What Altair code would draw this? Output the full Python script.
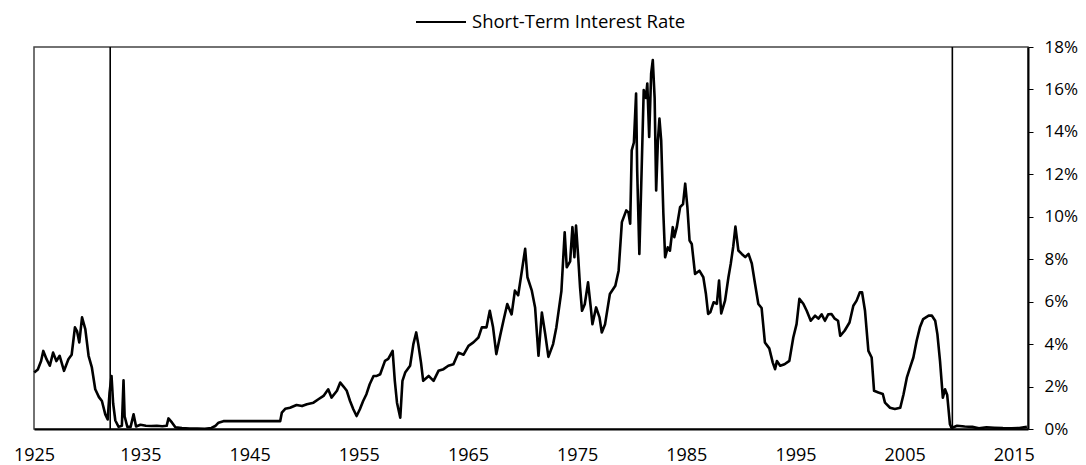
import altair as alt
import pandas as pd

series_name = "Short-Term Interest Rate"

years = [
    1925.27, 1925.6, 1925.9, 1926.1, 1926.4, 1926.7, 1927.0, 1927.3, 1927.6, 1928.0,
    1928.4, 1928.7, 1929.0, 1929.2, 1929.4, 1929.65, 1929.95, 1930.25, 1930.55, 1930.86,
    1931.2, 1931.47, 1931.78, 1932.0, 1932.17, 1932.35, 1932.5, 1932.7, 1933.0, 1933.3,
    1933.45, 1933.55, 1933.8, 1934.1, 1934.37, 1934.6, 1935.0, 1935.5, 1936.0, 1936.5,
    1937.0, 1937.4, 1937.57, 1937.9, 1938.2, 1938.8, 1939.5, 1940.2, 1940.9, 1941.5,
    1941.85, 1942.15, 1942.6, 1947.8, 1947.95, 1948.26, 1948.7, 1949.3, 1949.8, 1950.25,
    1950.85, 1951.3, 1951.77, 1952.2, 1952.5, 1953.0, 1953.3, 1953.6, 1953.9, 1954.2,
    1954.5, 1954.8, 1955.1, 1955.4, 1955.7, 1956.0, 1956.35, 1956.65, 1956.96, 1957.4,
    1957.7, 1958.1, 1958.3, 1958.5, 1958.8, 1959.0, 1959.25, 1959.7, 1960.0, 1960.26,
    1960.45, 1960.7, 1960.9, 1961.4, 1961.85, 1962.3, 1962.76, 1963.2, 1963.67, 1964.13,
    1964.6, 1965.05, 1965.5, 1965.96, 1966.27, 1966.7, 1967.0, 1967.3, 1967.6, 1967.95,
    1968.25, 1968.6, 1969.0, 1969.3, 1969.6, 1969.94, 1970.24, 1970.45, 1970.85, 1971.15,
    1971.46, 1971.77, 1972.07, 1972.37, 1972.8, 1973.1, 1973.56, 1973.86, 1974.05, 1974.36,
    1974.57, 1974.75, 1974.9, 1975.1, 1975.27, 1975.45, 1975.7, 1976.0, 1976.25, 1976.4,
    1976.74, 1977.05, 1977.26, 1977.56, 1978.0, 1978.5, 1978.8, 1979.1, 1979.5, 1979.7,
    1979.86, 1980.0, 1980.2, 1980.4, 1980.5, 1980.7, 1980.9, 1981.1, 1981.3, 1981.43,
    1981.6, 1981.78, 1981.93, 1982.1, 1982.24, 1982.4, 1982.54, 1982.7, 1982.9, 1983.06,
    1983.3, 1983.5, 1983.76, 1983.9, 1984.13, 1984.43, 1984.7, 1984.9, 1985.1, 1985.3,
    1985.5, 1985.8, 1986.2, 1986.56, 1986.8, 1987.0, 1987.2, 1987.5, 1987.8, 1988.0,
    1988.2, 1988.55, 1988.86, 1989.07, 1989.3, 1989.5, 1989.77, 1990.08, 1990.4, 1990.7,
    1991.0, 1991.3, 1991.6, 1991.9, 1992.2, 1992.6, 1992.92, 1993.13, 1993.3, 1993.6,
    1994.0, 1994.44, 1994.8, 1995.1, 1995.36, 1995.72, 1996.03, 1996.4, 1996.8, 1997.1,
    1997.4, 1997.7, 1998.0, 1998.3, 1998.6, 1998.9, 1999.1, 1999.5, 1999.95, 2000.3,
    2000.6, 2000.9, 2001.1, 2001.37, 2001.68, 2001.98, 2002.2, 2002.6, 2003.0, 2003.2,
    2003.66, 2004.1, 2004.6, 2004.9, 2005.2, 2005.5, 2005.8, 2006.1, 2006.4, 2006.7,
    2007.2, 2007.5, 2007.8, 2008.0, 2008.24, 2008.5, 2008.7, 2008.9, 2009.15, 2009.3,
    2009.8, 2010.5, 2011.2, 2011.8, 2012.5, 2013.2, 2014.0, 2014.8, 2015.5, 2016.2,
]

rates = [
    2.66, 2.8, 3.2, 3.68, 3.29, 2.98, 3.6, 3.2, 3.45, 2.74,
    3.29, 3.5, 4.79, 4.6, 4.08, 5.26, 4.71, 3.45, 2.9, 1.87,
    1.5, 1.32, 0.69, 0.45, 1.71, 2.5, 1.2, 0.4, 0.1, 0.15,
    2.3, 0.6, 0.1, 0.1, 0.69, 0.12, 0.2, 0.15, 0.14, 0.15,
    0.13, 0.15, 0.5, 0.3, 0.08, 0.04, 0.02, 0.02, 0.01, 0.05,
    0.14, 0.3, 0.37, 0.37, 0.77, 0.95, 1.0, 1.13, 1.08, 1.17,
    1.24, 1.4, 1.56, 1.87, 1.48, 1.8, 2.19, 2.0, 1.8, 1.32,
    0.93, 0.61, 0.93, 1.32, 1.64, 2.11, 2.5, 2.5, 2.58, 3.21,
    3.3, 3.68, 2.27, 1.24, 0.53, 2.27, 2.66, 2.98, 4.0, 4.55,
    4.0, 3.13, 2.27, 2.5, 2.27, 2.74, 2.82, 2.98, 3.05, 3.6,
    3.5, 3.92, 4.08, 4.31, 4.79, 4.79, 5.57, 4.79, 3.53, 4.4,
    5.1, 5.89, 5.4, 6.52, 6.3, 7.46, 8.49, 7.15, 6.52, 5.73,
    3.45, 5.49, 4.5, 3.4, 4.0, 4.8, 6.5, 9.27, 7.62, 7.9,
    9.51, 8.1, 9.59, 8.09, 6.67, 5.57, 5.88, 6.91, 5.73, 4.94,
    5.73, 5.26, 4.55, 4.94, 6.36, 6.75, 7.46, 9.75, 10.3, 10.2,
    9.67, 13.13, 13.5, 15.81, 12.2, 8.25, 12.03, 15.97, 15.6, 16.28,
    13.76, 16.75, 17.38, 15.6, 11.24, 13.6, 14.63, 13.6, 10.14, 8.09,
    8.56, 8.4, 9.51, 9.04, 9.51, 10.45, 10.6, 11.56, 10.45, 8.88,
    8.72, 7.31, 7.46, 7.15, 6.36, 5.42, 5.5, 5.97, 5.9, 6.99,
    5.45, 6.05, 7.15, 7.78, 8.6, 9.54, 8.41, 8.25, 8.1, 8.25,
    7.8, 6.83, 5.89, 5.7, 4.08, 3.8, 3.13, 2.82, 3.2, 2.98,
    3.05, 3.21, 4.31, 4.94, 6.13, 5.9, 5.57, 5.1, 5.34, 5.2,
    5.4, 5.1, 5.4, 5.42, 5.2, 5.1, 4.39, 4.63, 5.02, 5.81,
    6.05, 6.44, 6.44, 5.57, 3.68, 3.37, 1.8, 1.72, 1.65, 1.24,
    1.0, 0.94, 1.0, 1.64, 2.42, 2.9, 3.37, 4.16, 4.79, 5.18,
    5.34, 5.34, 5.1, 4.47, 3.21, 1.48, 1.87, 1.6, 0.22, 0.05,
    0.15, 0.12, 0.1, 0.03, 0.08, 0.06, 0.04, 0.03, 0.05, 0.1,
]

marker_years = [1932.23, 2009.37]
# first tick sits on the left edge of the frame and is labelled 1925
x_ticks = [1925.25, 1935, 1945, 1955, 1965, 1975, 1985, 1995, 2005, 2015]
y_ticks = [0, 2, 4, 6, 8, 10, 12, 14, 16, 18]

FONT = "Open Sans"

df = pd.DataFrame({"year": years, "rate": rates, "series": series_name})
markers = pd.DataFrame({"year": marker_years, "lo": [0, 0], "hi": [18, 18]})

x_scale = alt.Scale(domain=[1925.25, 2016.3], nice=False, zero=False)
y_scale = alt.Scale(domain=[0, 18], nice=False)

line = alt.Chart(df).mark_line(strokeWidth=2.6, strokeJoin="round").encode(
    x=alt.X(
        "year:Q",
        scale=x_scale,
        axis=alt.Axis(
            values=x_ticks,
            labelExpr="datum.value < 1930 ? '1925' : format(datum.value, 'd')",
            title=None, grid=False, ticks=False,
            domainColor="black", domainWidth=2, labelFontSize=18, labelFont=FONT,
            labelColor="black", labelPadding=17, labelFlush=False, labelOverlap=False,
        ),
    ),
    y=alt.Y(
        "rate:Q",
        scale=y_scale,
        axis=alt.Axis(
            orient="right", values=y_ticks, labelExpr="datum.value + '%'", title=None,
            grid=False, ticks=True, tickSize=5, tickColor="black", tickWidth=1,
            domainColor="black", domainWidth=2, labelFontSize=17, labelFont=FONT,
            labelColor="black", labelPadding=11,
        ),
    ),
    color=alt.Color(
        "series:N",
        scale=alt.Scale(range=["black"]),
        legend=alt.Legend(
            title=None, orient="none", legendX=381, legendY=-51, symbolType="stroke",
            symbolSize=2500, symbolStrokeWidth=2, labelFontSize=18.5, labelFont=FONT,
            labelColor="black", labelOffset=5, labelLimit=0,
        ),
    ),
)

rules = alt.Chart(markers).mark_rule(color="black", strokeWidth=1.6).encode(
    x=alt.X("year:Q", scale=x_scale),
    y=alt.Y("lo:Q", scale=y_scale),
    y2="hi:Q",
)

chart = (
    alt.layer(line, rules)
    .properties(
        width=994,
        height=382,
        autosize=alt.AutoSizeParams(type="none"),
        padding={"left": 26, "top": 39, "right": 50, "bottom": 36},
    )
    .configure_view(stroke="#444", strokeWidth=1.5)
)

chart.save("out.html", embed_options={"renderer": "svg", "actions": False})
